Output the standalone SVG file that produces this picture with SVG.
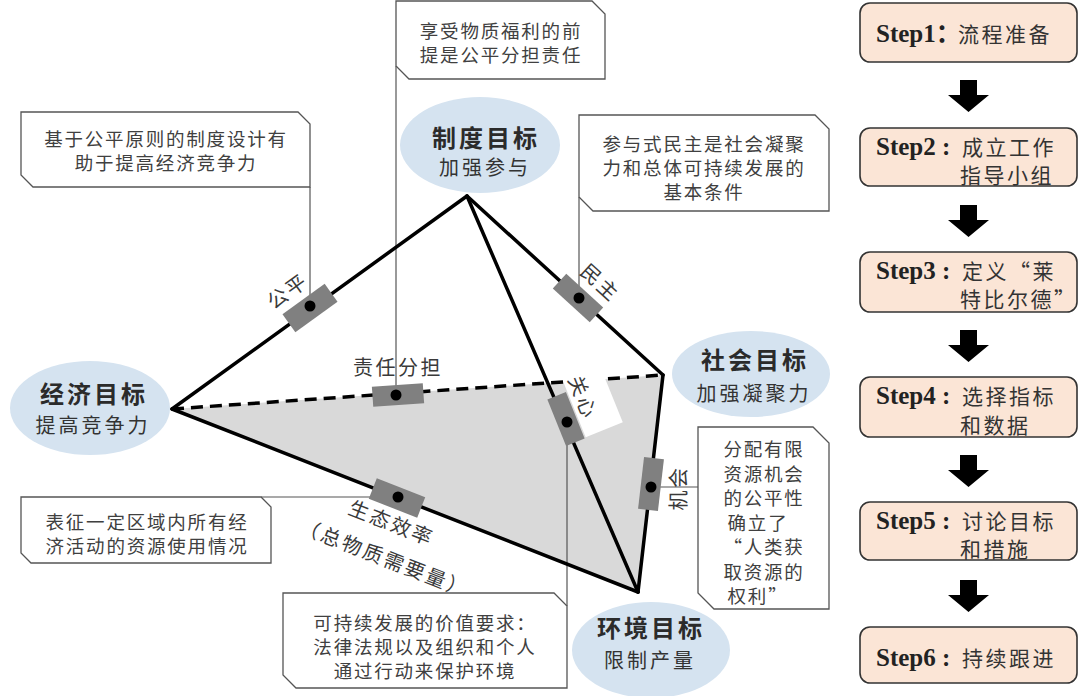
<svg xmlns="http://www.w3.org/2000/svg" width="1080" height="696" viewBox="0 0 1080 696">
<style>
text{font-family:"Noto Sans CJK SC","Noto Sans",sans-serif;dominant-baseline:central;text-anchor:middle}
.edge{stroke:#000;stroke-width:3.5;fill:none;stroke-linecap:round;stroke-linejoin:round}
.dash{stroke-dasharray:12 7;stroke-linecap:butt}
.leader{stroke:#555;stroke-width:1.2;fill:none}
.callout{fill:#fff;stroke:#555;stroke-width:1.3}
.ct{font-size:18.5px;letter-spacing:1.8px;fill:#404040}
.goal{fill:#d5e3f0}
.gt{font-size:24px;font-weight:bold;letter-spacing:3px;fill:#2b2b2b}
.gs{font-size:20px;letter-spacing:3px;fill:#333}
.mk{fill:#808080}
.dot{fill:#000}
.ml{font-size:20px;letter-spacing:2.5px;fill:#3a3a3a}
.step{fill:#fbe5d6;stroke:#333;stroke-width:1.6}
.sl{font-family:"Liberation Serif","Noto Sans CJK SC",serif;font-weight:bold;font-size:25px;fill:#222;text-anchor:start}
.sc{font-size:21px;letter-spacing:2.5px;fill:#333;text-anchor:start}
.arrow{fill:#000}
</style>
<rect width="1080" height="696" fill="#fff"/>

<g id="pyramid">
  <polygon points="172,409 663,375 638,592" fill="#d9d9d9"/>
</g>

<g id="connectors">
  <line class="leader" x1="310" y1="187" x2="310" y2="306"/>
  <line class="leader" x1="396" y1="66" x2="396" y2="395"/>
  <line class="leader" x1="579" y1="197" x2="579" y2="298"/>
  <line class="leader" x1="261" y1="497" x2="398" y2="497"/>
  <line class="leader" x1="567" y1="606" x2="567" y2="422"/>
  <line class="leader" x1="651" y1="487" x2="698" y2="487"/>
  <line class="edge dash" x1="172" y1="409" x2="663" y2="375"/>
  <line class="edge" x1="467" y1="196" x2="172" y2="409"/>
  <line class="edge" x1="467" y1="196" x2="663" y2="375"/>
  <line class="edge" x1="467" y1="196" x2="638" y2="592"/>
  <line class="edge" x1="172" y1="409" x2="638" y2="592"/>
  <line class="edge" x1="663" y1="375" x2="638" y2="592"/>
  <polygon class="arrow" points="960,80 977,80 977,95 989,95 968.5,112 948,95 960,95"/>
  <polygon class="arrow" points="960,205 977,205 977,220 989,220 968.5,237 948,220 960,220"/>
  <polygon class="arrow" points="960,330 977,330 977,345 989,345 968.5,362 948,345 960,345"/>
  <polygon class="arrow" points="960,455 977,455 977,470 989,470 968.5,487 948,470 960,470"/>
  <polygon class="arrow" points="960,580 977,580 977,595 989,595 968.5,612 948,595 960,595"/>
</g>

<g id="marker-gongping">
  <rect class="mk" x="-26" y="-11" width="52" height="22" transform="translate(310,308) rotate(-35.8)"/>
  <circle class="dot" cx="310" cy="306" r="5.5"/>
  <text class="ml" transform="translate(287,290) rotate(-35.8)">公平</text>
</g>
<g id="marker-zeren">
  <rect class="mk" x="-25.5" y="-10" width="51" height="20" transform="translate(398,395) rotate(-4)"/>
  <circle class="dot" cx="396" cy="395" r="5.5"/>
  <text class="ml" x="398" y="366">责任分担</text>
</g>
<g id="marker-minzhu">
  <rect class="mk" x="-25" y="-10" width="50" height="20" transform="translate(578,298) rotate(42.4)"/>
  <circle class="dot" cx="579" cy="298" r="5.5"/>
  <text class="ml" transform="translate(601,282) rotate(42.4)">民主</text>
</g>
<g id="marker-guanxin">
  <rect fill="#fff" x="-30" y="-20" width="60" height="40" transform="translate(593,402) rotate(68)"/>
  <rect class="mk" x="-25" y="-10" width="50" height="20" transform="translate(566,419) rotate(68)"/>
  <circle class="dot" cx="567" cy="422" r="5.5"/>
  <text class="ml" transform="translate(584,397) rotate(68)">关心</text>
</g>
<g id="marker-jihui">
  <rect class="mk" x="-26" y="-10" width="52" height="20" transform="translate(651,484) rotate(96.6)"/>
  <circle class="dot" cx="651" cy="487" r="5.5"/>
  <text class="ml" transform="translate(677,488) rotate(-90)">机会</text>
</g>
<g id="marker-shengtai">
  <rect class="mk" x="-26" y="-11" width="52" height="22" transform="translate(397,498) rotate(21.4)"/>
  <circle class="dot" cx="398" cy="497" r="5.5"/>
  <text class="ml" transform="translate(392,522) rotate(21.4)">生态效率</text>
  <text class="ml" transform="translate(385,557) rotate(21.4)">（总物质需要量）</text>
</g>

<g id="goal-zhidu">
  <ellipse class="goal" cx="480" cy="145" rx="80" ry="48"/>
  <text class="gt" x="486" y="136">制度目标</text>
  <text class="gs" x="485" y="166">加强参与</text>
</g>
<g id="goal-jingji">
  <ellipse class="goal" cx="90" cy="408" rx="80" ry="47"/>
  <text class="gt" x="94" y="392">经济目标</text>
  <text class="gs" x="93" y="424">提高竞争力</text>
</g>
<g id="goal-shehui">
  <ellipse class="goal" cx="751" cy="374" rx="79" ry="43"/>
  <text class="gt" x="755" y="358">社会目标</text>
  <text class="gs" x="754" y="392">加强凝聚力</text>
</g>
<g id="goal-huanjing">
  <ellipse class="goal" cx="651" cy="650" rx="79" ry="48"/>
  <text class="gt" x="651" y="626">环境目标</text>
  <text class="gs" x="650" y="659">限制产量</text>
</g>

<g id="callout-1">
  <polygon class="callout" points="21,112 298,112 310,124 310,187 33,187 21,175"/>
  <text class="ct" x="166" y="138">基于公平原则的制度设计有</text>
  <text class="ct" x="166" y="162">助于提高经济竞争力</text>
</g>
<g id="callout-2">
  <polygon class="callout" points="396,1 592,1 605,14 605,79 409,79 396,66"/>
  <text class="ct" x="501" y="30">享受物质福利的前</text>
  <text class="ct" x="501" y="54">提是公平分担责任</text>
</g>
<g id="callout-3">
  <polygon class="callout" points="579,115 815,115 829,129 829,211 593,211 579,197"/>
  <text class="ct" x="704" y="143">参与式民主是社会凝聚</text>
  <text class="ct" x="704" y="167">力和总体可持续发展的</text>
  <text class="ct" x="704" y="191">基本条件</text>
</g>
<g id="callout-4">
  <polygon class="callout" points="21,497 261,497 271,507 271,563 31,563 21,553"/>
  <text class="ct" x="147" y="521">表征一定区域内所有经</text>
  <text class="ct" x="147" y="545">济活动的资源使用情况</text>
</g>
<g id="callout-5">
  <polygon class="callout" points="283,593 554,593 567,606 567,688 296,688 283,675"/>
  <text class="ct" x="425" y="622">可持续发展的价值要求：</text>
  <text class="ct" x="425" y="646">法律法规以及组织和个人</text>
  <text class="ct" x="425" y="670">通过行动来保护环境</text>
</g>
<g id="callout-6">
  <polygon class="callout" points="698,427 813,427 829,443 829,609 714,609 698,593"/>
  <text class="ct" x="764" y="448">分配有限</text>
  <text class="ct" x="764" y="472.5">资源机会</text>
  <text class="ct" x="764" y="497">的公平性</text>
  <text class="ct" x="758" y="521.5">确立了</text>
  <text class="ct" x="764" y="546">“人类获</text>
  <text class="ct" x="764" y="570.5">取资源的</text>
  <text class="ct" x="758" y="595">权利”</text>
</g>

<g id="step-1">
  <rect class="step" x="860" y="3" width="217" height="59" rx="10"/>
  <text class="sl" x="876" y="33">Step1：</text>
  <text class="sc" x="958" y="33">流程准备</text>
</g>
<g id="step-2">
  <rect class="step" x="860" y="128" width="217" height="58" rx="10"/>
  <text class="sl" x="876" y="146">Step2 :</text>
  <text class="sc" x="962" y="146">成立工作</text>
  <text class="sc" x="960" y="174">指导小组</text>
</g>
<g id="step-3">
  <rect class="step" x="860" y="252" width="217" height="60" rx="10"/>
  <text class="sl" x="876" y="270">Step3 :</text>
  <text class="sc" x="962" y="270">定义“莱</text>
  <text class="sc" x="960" y="298">特比尔德”</text>
</g>
<g id="step-4">
  <rect class="step" x="860" y="377" width="217" height="60" rx="10"/>
  <text class="sl" x="876" y="395">Step4 :</text>
  <text class="sc" x="962" y="395">选择指标</text>
  <text class="sc" x="960" y="424">和数据</text>
</g>
<g id="step-5">
  <rect class="step" x="860" y="502" width="217" height="58" rx="10"/>
  <text class="sl" x="876" y="520">Step5 :</text>
  <text class="sc" x="962" y="520">讨论目标</text>
  <text class="sc" x="960" y="548">和措施</text>
</g>
<g id="step-6">
  <rect class="step" x="860" y="627" width="217" height="56" rx="10"/>
  <text class="sl" x="876" y="657">Step6 :</text>
  <text class="sc" x="962" y="657">持续跟进</text>
</g>
</svg>
